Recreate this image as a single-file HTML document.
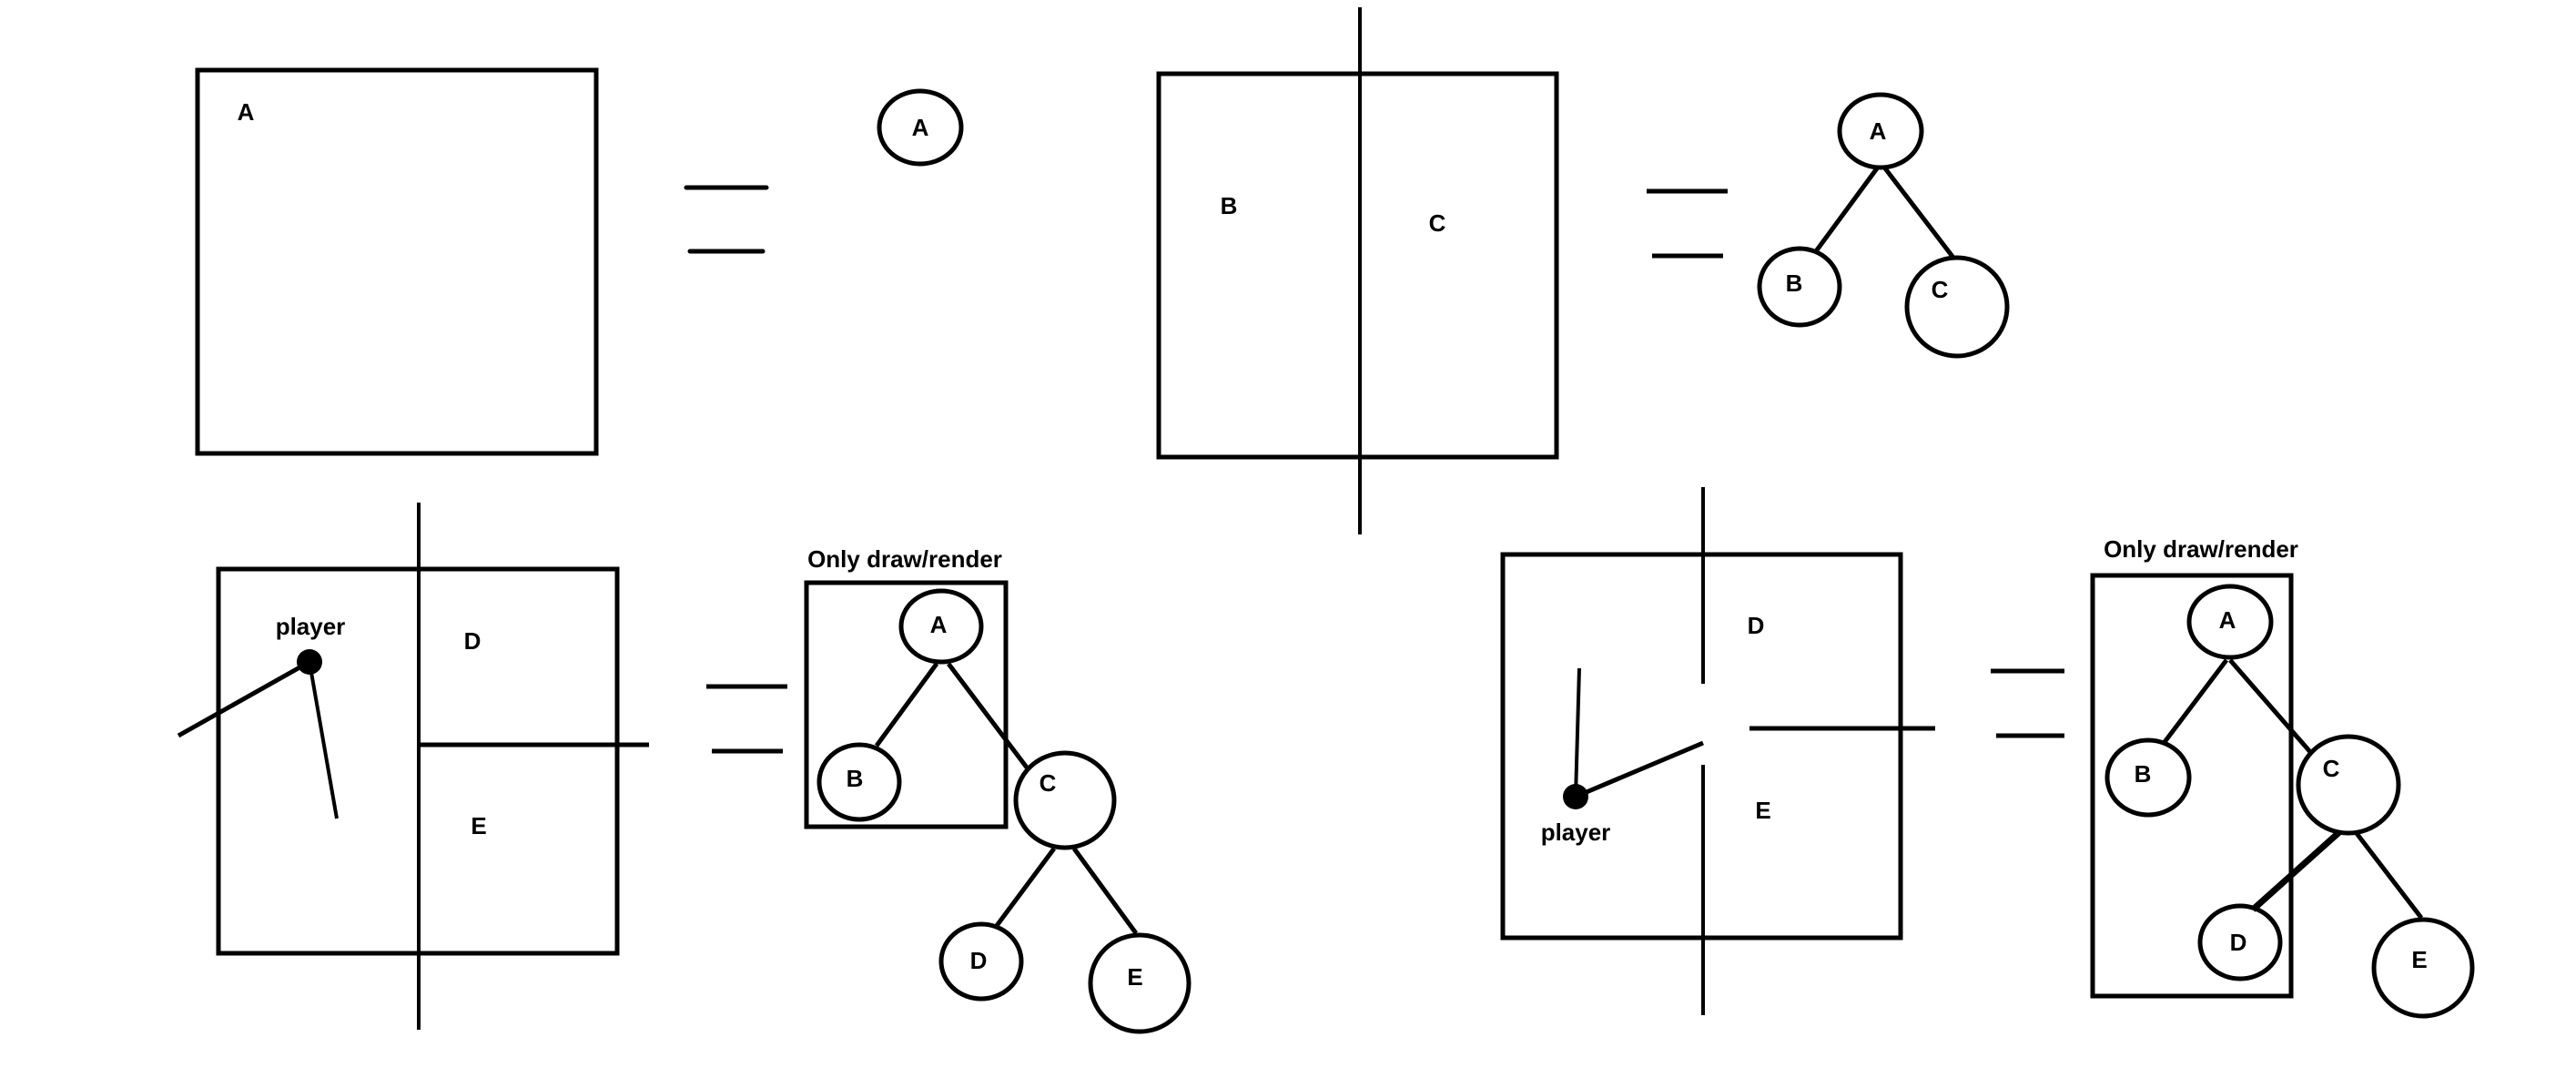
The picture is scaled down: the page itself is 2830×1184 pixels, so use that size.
<!DOCTYPE html>
<html><head><meta charset="utf-8"><style>
html,body{margin:0;padding:0;background:#fff;}
svg{display:block;}
text{font-family:"Liberation Sans",sans-serif;font-weight:bold;fill:#000;}
</style></head><body>
<svg width="2830" height="1184" viewBox="0 0 2830 1184" xmlns="http://www.w3.org/2000/svg">
<g stroke="#000" stroke-width="5" fill="none">
<!-- Panel 1 -->
<rect x="217" y="77" width="438" height="421"/>
<line x1="754" y1="206" x2="842" y2="206" stroke-linecap="round"/>
<line x1="758" y1="276" x2="838" y2="276" stroke-linecap="round"/>
<ellipse cx="1011" cy="140" rx="45" ry="40"/>
<!-- Panel 2 -->
<rect x="1273" y="81" width="437" height="421"/>
<line x1="1494" y1="8" x2="1494" y2="587" stroke-width="4"/>
<line x1="1809" y1="210" x2="1898" y2="210"/>
<line x1="1815" y1="281" x2="1893" y2="281"/>
<ellipse cx="2066" cy="144" rx="45" ry="40"/>
<ellipse cx="1977" cy="315" rx="44" ry="42"/>
<ellipse cx="2150" cy="337" rx="55" ry="54"/>
<line x1="2062" y1="185" x2="1995" y2="276"/>
<line x1="2071" y1="185" x2="2146" y2="283"/>
<!-- Panel 3 -->
<rect x="240" y="625" width="438" height="422"/>
<line x1="460" y1="552" x2="460" y2="1131" stroke-width="4"/>
<line x1="460" y1="818" x2="713" y2="818"/>
<line x1="340" y1="727" x2="196" y2="808"/>
<line x1="340" y1="727" x2="370" y2="899" stroke-width="4"/>
<line x1="776" y1="754" x2="865" y2="754"/>
<line x1="782" y1="825" x2="860" y2="825"/>
<rect x="886" y="640" width="219" height="268"/>
<ellipse cx="1034" cy="688" rx="44" ry="39"/>
<ellipse cx="944" cy="859" rx="44" ry="41"/>
<ellipse cx="1170" cy="879" rx="54" ry="52"/>
<ellipse cx="1078" cy="1056" rx="44" ry="41"/>
<ellipse cx="1252" cy="1080" rx="54" ry="53"/>
<line x1="1029" y1="729" x2="963" y2="819"/>
<line x1="1042" y1="729" x2="1128" y2="843"/>
<line x1="1158" y1="932" x2="1094" y2="1018"/>
<line x1="1180" y1="932" x2="1248" y2="1025"/>
<!-- Panel 4 -->
<rect x="1651" y="609" width="437" height="421"/>
<line x1="1871" y1="535" x2="1871" y2="751" stroke-width="4"/>
<line x1="1871" y1="840" x2="1871" y2="1115" stroke-width="4"/>
<line x1="1922" y1="800" x2="2126" y2="800"/>
<line x1="1731" y1="875" x2="1735" y2="734" stroke-width="4"/>
<line x1="1731" y1="875" x2="1871" y2="816"/>
<line x1="2187" y1="737" x2="2268" y2="737"/>
<line x1="2193" y1="808" x2="2268" y2="808"/>
<rect x="2299" y="632" width="218" height="462"/>
<ellipse cx="2450" cy="683" rx="45" ry="39"/>
<ellipse cx="2360" cy="854" rx="45" ry="41"/>
<ellipse cx="2580" cy="862" rx="55" ry="53"/>
<ellipse cx="2461" cy="1035" rx="44" ry="40"/>
<ellipse cx="2662" cy="1063" rx="54" ry="53"/>
<line x1="2446" y1="725" x2="2378" y2="815"/>
<line x1="2450" y1="725" x2="2539" y2="827"/>
<line x1="2570" y1="914" x2="2475" y2="999" stroke-width="7"/>
<line x1="2588" y1="914" x2="2660" y2="1008"/>
</g>
<circle cx="340" cy="727" r="14" fill="#000"/>
<circle cx="1731" cy="875" r="14" fill="#000"/>
<g font-size="26" text-anchor="middle">
<text x="270" y="132">A</text>
<text x="1011" y="149">A</text>
<text x="1350" y="235">B</text>
<text x="1579" y="254">C</text>
<text x="2063" y="153">A</text>
<text x="1971" y="320">B</text>
<text x="2131" y="327">C</text>
<text x="341" y="697">player</text>
<text x="519" y="713">D</text>
<text x="526" y="916">E</text>
<text x="994" y="623">Only draw/render</text>
<text x="1031" y="695">A</text>
<text x="939" y="864">B</text>
<text x="1151" y="869">C</text>
<text x="1075" y="1064">D</text>
<text x="1247" y="1082">E</text>
<text x="1731" y="923">player</text>
<text x="1929" y="696">D</text>
<text x="1937" y="899">E</text>
<text x="2418" y="612">Only draw/render</text>
<text x="2447" y="690">A</text>
<text x="2354" y="859">B</text>
<text x="2561" y="853">C</text>
<text x="2459" y="1044">D</text>
<text x="2658" y="1063">E</text>
</g>
</svg>
</body></html>
